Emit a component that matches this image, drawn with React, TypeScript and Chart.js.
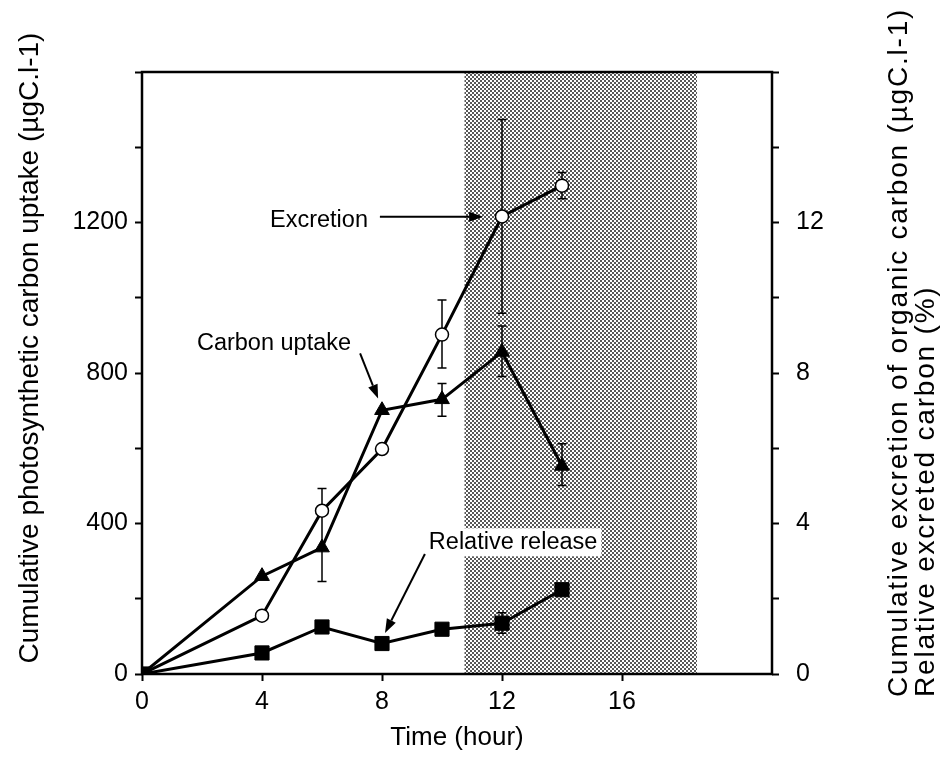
import React, { useEffect, useRef } from "react";
import { Chart, registerables } from "chart.js";

Chart.register(...registerables);

// ---- data ----
const hours = [0, 4, 6, 8, 10, 12, 14];
const carbonUptake = [0, 260, 336, 701, 730, 856, 553];
const uptakeErrLow = [null, null, 246, null, 685, 791, 501];
const uptakeErrHigh = [null, null, 493, null, 772, 925, 612];
const excretion = [0, 1.55, 4.34, 5.98, 9.02, 12.16, 12.98];
const excretionErrLow = [null, null, null, null, 8.13, 9.59, 12.63];
const excretionErrHigh = [null, null, null, null, 9.94, 14.74, 13.33];
const relativeRelease = [0, 0.56, 1.25, 0.81, 1.19, 1.35, 2.24];
const releaseErrLow = [null, null, null, null, null, 1.08, null];
const releaseErrHigh = [null, null, null, null, null, 1.63, null];

const xTicks = [0, 4, 8, 12, 16];
const leftTicks = [0, 200, 400, 600, 800, 1000, 1200, 1400, 1600];
const leftLabels = [0, 400, 800, 1200];
const rightTicks = [0, 2, 4, 6, 8, 10, 12, 14, 16];
const rightLabels = [0, 4, 8, 12];
const darkPeriod = [10.75, 18.5];

const xTitle = "Time (hour)";
const leftTitle = "Cumulative photosynthetic carbon uptake (\u00b5gC.l-1)";
const rightTitle1 = "Cumulative excretion of organic carbon (\u00b5gC.l-1)";
const rightTitle2 = "Relative excreted carbon (%)";

// annotations (text, position in data units on x / left axis)
const notes = [
  { text: "Excretion", x: 5.9, y: 1206, box: false },
  { text: "Carbon uptake", x: 4.4, y: 879, box: false },
  { text: "Relative release", x: 12.37, y: 350, box: true },
];
const arrows = [
  { from: [7.93, 1215], to: [11.37, 1215] },
  { from: [7.27, 852], to: [7.87, 732] },
  { from: [9.43, 319], to: [8.1, 109] },
];

const FONT = "'Liberation Sans', Arial, Helvetica, sans-serif";

function makePattern(ctx: CanvasRenderingContext2D) {
  const c = document.createElement("canvas");
  c.width = 4;
  c.height = 4;
  const g = c.getContext("2d")!;
  g.fillStyle = "#ffffff";
  g.fillRect(0, 0, 4, 4);
  g.fillStyle = "#585858";
  g.fillRect(0, 0, 2, 2);
  g.fillRect(2, 2, 2, 2);
  return ctx.createPattern(c, "repeat")!;
}

function drawErr(
  ctx: CanvasRenderingContext2D,
  xs: any,
  ys: any,
  lows: (number | null)[],
  highs: (number | null)[]
) {
  hours.forEach((h, i) => {
    const lo = lows[i];
    const hi = highs[i];
    if (lo == null || hi == null) return;
    const px = xs.getPixelForValue(h);
    const p1 = ys.getPixelForValue(lo);
    const p2 = ys.getPixelForValue(hi);
    ctx.beginPath();
    ctx.moveTo(px, p1);
    ctx.lineTo(px, p2);
    ctx.moveTo(px - 4.5, p1);
    ctx.lineTo(px + 4.5, p1);
    ctx.moveTo(px - 4.5, p2);
    ctx.lineTo(px + 4.5, p2);
    ctx.stroke();
  });
}

const overlay = {
  id: "overlay",
  beforeDatasetsDraw(chart: any) {
    const { ctx, chartArea, scales } = chart;
    const xs = scales.x;
    const x0 = xs.getPixelForValue(darkPeriod[0]);
    const x1 = xs.getPixelForValue(darkPeriod[1]);
    ctx.save();
    ctx.fillStyle = makePattern(ctx);
    ctx.fillRect(x0, chartArea.top, x1 - x0, chartArea.bottom - chartArea.top);
    ctx.strokeStyle = "#000";
    ctx.lineWidth = 1.5;
    drawErr(ctx, xs, scales.yLeft, uptakeErrLow, uptakeErrHigh);
    drawErr(ctx, xs, scales.yRight, excretionErrLow, excretionErrHigh);
    drawErr(ctx, xs, scales.yRight, releaseErrLow, releaseErrHigh);
    ctx.restore();
  },
  afterDatasetsDraw(chart: any) {
    const { ctx, chartArea, scales } = chart;
    const xs = scales.x;
    const ys = scales.yLeft;
    ctx.save();
    // frame
    ctx.strokeStyle = "#000";
    ctx.lineWidth = 2.5;
    ctx.strokeRect(
      chartArea.left,
      chartArea.top,
      chartArea.right - chartArea.left,
      chartArea.bottom - chartArea.top
    );
    // annotations
    ctx.font = `23.5px ${FONT}`;
    ctx.textAlign = "center";
    ctx.textBaseline = "middle";
    notes.forEach((n) => {
      const px = xs.getPixelForValue(n.x);
      const py = ys.getPixelForValue(n.y);
      if (n.box) {
        const w = ctx.measureText(n.text).width;
        ctx.fillStyle = "#fff";
        ctx.fillRect(px - w / 2 - 4, py - 14, w + 8, 28);
      }
      ctx.fillStyle = "#000";
      ctx.fillText(n.text, px, py);
    });
    ctx.lineWidth = 2;
    arrows.forEach((a) => {
      const ax = xs.getPixelForValue(a.from[0]);
      const ay = ys.getPixelForValue(a.from[1]);
      const bx = xs.getPixelForValue(a.to[0]);
      const by = ys.getPixelForValue(a.to[1]);
      const ang = Math.atan2(by - ay, bx - ax);
      const hl = 14;
      const hw = 5;
      const ex = bx - hl * Math.cos(ang);
      const ey = by - hl * Math.sin(ang);
      ctx.beginPath();
      ctx.moveTo(ax, ay);
      ctx.lineTo(ex, ey);
      ctx.stroke();
      ctx.beginPath();
      ctx.moveTo(bx, by);
      ctx.lineTo(ex + hw * Math.sin(ang), ey - hw * Math.cos(ang));
      ctx.lineTo(ex - hw * Math.sin(ang), ey + hw * Math.cos(ang));
      ctx.closePath();
      ctx.fillStyle = "#000";
      ctx.fill();
    });
    // axis titles
    ctx.fillStyle = "#000";
    ctx.font = `26px ${FONT}`;
    ctx.textAlign = "center";
    ctx.textBaseline = "middle";
    ctx.fillText(xTitle, (chartArea.left + chartArea.right) / 2, 738);

    ctx.font = `28px ${FONT}`;
    ctx.save();
    ctx.translate(30, 348);
    ctx.rotate(-Math.PI / 2);
    ctx.fillText(leftTitle, 0, 0);
    ctx.restore();

    ctx.font = `28px ${FONT}`;
    (ctx as any).letterSpacing = "1.8px";
    ctx.textAlign = "left";
    ctx.textBaseline = "alphabetic";
    ctx.save();
    ctx.translate(907, 697);
    ctx.rotate(-Math.PI / 2);
    ctx.fillText(rightTitle1, 0, 0);
    ctx.restore();
    ctx.save();
    ctx.translate(934, 697);
    ctx.rotate(-Math.PI / 2);
    ctx.fillText(rightTitle2, 0, 0);
    ctx.restore();
    (ctx as any).letterSpacing = "0px";

    ctx.restore();
  },
};

export default function App() {
  const ref = useRef<HTMLCanvasElement | null>(null);
  useEffect(() => {
    if (!ref.current) return;
    const gridCommon = {
      drawOnChartArea: false,
      drawTicks: true,
      tickLength: 7,
      tickWidth: 2,
      tickColor: "#000",
      color: "#000",
    };
    const tickFont = { family: FONT, size: 25 };
    const chart = new Chart(ref.current, {
      type: "line",
      data: {
        labels: hours,
        datasets: [
          {
            label: "Relative release",
            data: hours.map((h, i) => ({ x: h, y: relativeRelease[i] })),
            yAxisID: "yRight",
            borderColor: "#000",
            borderWidth: 3,
            pointStyle: "rect",
            pointRadius: 10,
            pointBackgroundColor: "#000",
            pointBorderColor: "#000",
            pointBorderWidth: 1,
            tension: 0,
          },
          {
            label: "Excretion",
            data: hours.map((h, i) => ({ x: h, y: excretion[i] })),
            yAxisID: "yRight",
            borderColor: "#000",
            borderWidth: 3,
            pointStyle: "circle",
            pointRadius: 6.5,
            pointBackgroundColor: "#fff",
            pointBorderColor: "#000",
            pointBorderWidth: 1.5,
            tension: 0,
          },
          {
            label: "Carbon uptake",
            data: hours.map((h, i) => ({ x: h, y: carbonUptake[i] })),
            yAxisID: "yLeft",
            borderColor: "#000",
            borderWidth: 3,
            pointStyle: "triangle",
            pointRadius: 8.5,
            pointBackgroundColor: "#000",
            pointBorderColor: "#000",
            pointBorderWidth: 1,
            tension: 0,
          },
        ],
      },
      options: {
        animation: false,
        responsive: true,
        maintainAspectRatio: false,
        layout: { padding: { top: 72, left: 0, right: 0, bottom: 0 } },
        plugins: {
          legend: { display: false },
          tooltip: { enabled: false },
        },
        scales: {
          x: {
            type: "linear",
            min: 0,
            max: 21,
            border: { display: false },
            grid: gridCommon,
            ticks: {
              font: tickFont,
              color: "#000",
              padding: 6,
              maxRotation: 0,
              callback: (v: any) => String(v),
            },
            afterBuildTicks: (s: any) => {
              s.ticks = xTicks.map((v) => ({ value: v }));
            },
            afterFit: (s: any) => {
              s.height = 102;
            },
          },
          yLeft: {
            type: "linear",
            position: "left",
            min: 0,
            max: 1600,
            border: { display: false },
            grid: gridCommon,
            ticks: {
              font: tickFont,
              color: "#000",
              padding: 7,
              callback: (v: any) => (leftLabels.includes(v) ? String(v) : ""),
            },
            afterBuildTicks: (s: any) => {
              s.ticks = leftTicks.map((v) => ({ value: v }));
            },
            afterFit: (s: any) => {
              s.width = 142;
            },
          },
          yRight: {
            type: "linear",
            position: "right",
            min: 0,
            max: 16,
            border: { display: false },
            grid: gridCommon,
            ticks: {
              font: tickFont,
              color: "#000",
              padding: 17,
              callback: (v: any) => (rightLabels.includes(v) ? String(v) : ""),
            },
            afterBuildTicks: (s: any) => {
              s.ticks = rightTicks.map((v) => ({ value: v }));
            },
            afterFit: (s: any) => {
              s.width = 170;
            },
          },
        },
      },
      plugins: [overlay],
    });
    return () => chart.destroy();
  }, []);

  return (
    <div
      style={{
        position: "absolute",
        left: 0,
        top: 0,
        width: 942,
        height: 776,
        background: "#fff",
      }}
    >
      <canvas ref={ref} />
    </div>
  );
}
